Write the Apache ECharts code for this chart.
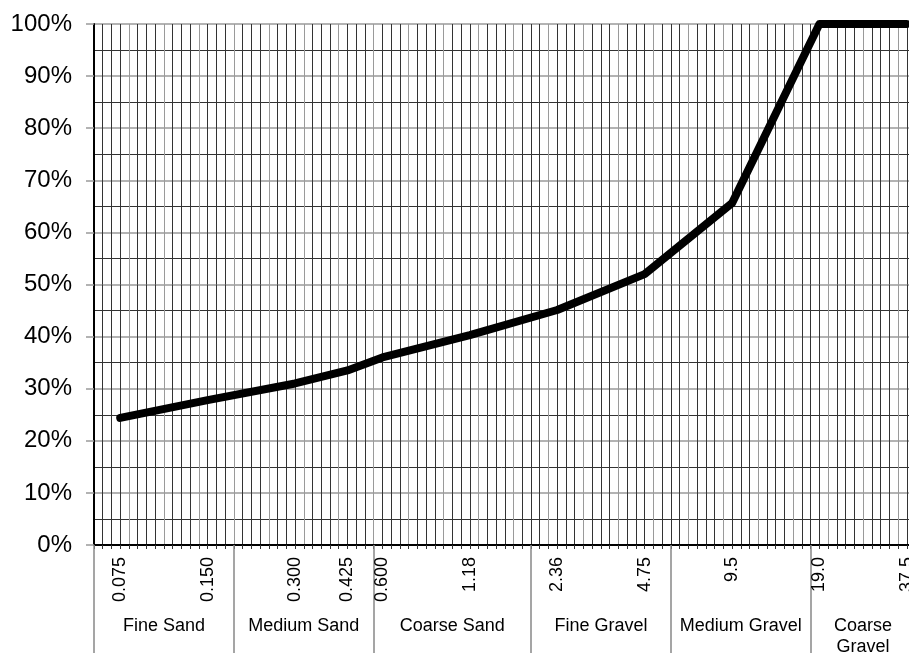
<!DOCTYPE html>
<html>
<head>
<meta charset="utf-8">
<script src="https://cdn.jsdelivr.net/npm/echarts@6/dist/echarts.min.js"></script>
<style>
  html, body { margin: 0; padding: 0; background: #fff; }
  #main { width: 909px; height: 653px; }
</style>
</head>
<body>
<div id="main"></div>
<script>
// sieve sizes (mm) and the slot they sit on along the grading axis
const sieveLabels = ['0.075', '0.150', '0.300', '0.425', '0.600', '1.18', '2.36', '4.75', '9.5', '19.0', '37.5'];
const sieveSlots = [3, 13, 23, 29, 33, 43, 53, 63, 73, 83, 93];
// percent passing
const percentPassing = [24.4, 27.8, 31.0, 33.5, 36.0, 40.3, 45.1, 52.0, 65.6, 100, 100];

// soil classes under the axis
const sectionNames = ['Fine Sand', 'Medium Sand', 'Coarse Sand', 'Fine Gravel', 'Medium Gravel', 'Coarse\nGravel'];
const sectionBounds = [0, 16, 32, 50, 66, 82, 94];

// the sheet is cut at the window edge, a little before slot 94
const lastVisibleSlot = 93.25;

let sectionCenters = [];
for (let i = 0; i < sectionNames.length; i++) {
    sectionCenters.push((sectionBounds[i] + sectionBounds[i + 1]) / 2);
}

let lineData = [];
for (let i = 0; i < sieveSlots.length; i++) {
    lineData.push([sieveSlots[i], percentPassing[i]]);
}

var chart = echarts.init(document.getElementById('main'));

var option = {
    animation: false,
    textStyle: { fontFamily: 'Liberation Sans, Arial, sans-serif' },
    // labels are allowed to run off the edge, don't shrink the plot for them
    grid: { left: 94, top: 24, bottom: 108, right: 0, outerBoundsMode: 'none', containLabel: false },
    xAxis: [
        {
            type: 'value',
            min: 0,
            max: lastVisibleSlot,
            interval: 1,
            position: 'bottom',
            axisLine: { show: true, lineStyle: { color: '#000', width: 2 } },
            axisTick: { show: true, length: 4, lineStyle: { color: '#333' } },
            splitLine: {
                show: true,
                lineStyle: { color: ['#9a9a9a', '#333', '#333', '#333'], width: 1 }
            },
            axisLabel: {
                customValues: sieveSlots,
                rotate: 90,
                margin: 12,
                fontSize: 18,
                color: '#000',
                formatter: function (v) {
                    let idx = sieveSlots.indexOf(Math.round(v));
                    return idx >= 0 ? sieveLabels[idx] : '';
                }
            }
        },
        {
            type: 'value',
            min: 0,
            max: lastVisibleSlot,
            position: 'bottom',
            axisLine: { show: false },
            splitLine: { show: false },
            axisTick: {
                show: true,
                customValues: sectionBounds.filter(b => b <= lastVisibleSlot),
                length: 108,
                lineStyle: { color: '#888', width: 1.5 }
            },
            axisLabel: {
                customValues: sectionCenters,
                margin: 71,
                verticalAlign: 'top',
                align: 'center',
                fontSize: 18,
                lineHeight: 21,
                color: '#000',
                formatter: function (v) {
                    let idx = sectionCenters.indexOf(v);
                    return idx >= 0 ? sectionNames[idx] : '';
                }
            }
        }
    ],
    yAxis: {
        type: 'value',
        min: 0,
        max: 100,
        interval: 10,
        axisLine: { show: true, lineStyle: { color: '#000', width: 2 } },
        axisTick: { show: true, length: 8, lineStyle: { color: '#9a9a9a', width: 1.5 } },
        minorTick: { show: false, splitNumber: 2 },
        splitLine: { show: true, lineStyle: { color: '#9a9a9a', width: 1.5 } },
        minorSplitLine: { show: true, lineStyle: { color: '#333', width: 1 } },
        axisLabel: {
            formatter: '{value}%',
            fontSize: 24,
            margin: 22,
            color: '#000'
        }
    },
    series: [
        {
            name: 'Passing',
            type: 'line',
            xAxisIndex: 0,
            data: lineData,
            symbol: 'none',
            smooth: false,
            lineStyle: { color: '#000', width: 8, cap: 'round', join: 'round' }
        }
    ]
};

chart.setOption(option);
</script>
</body>
</html>
